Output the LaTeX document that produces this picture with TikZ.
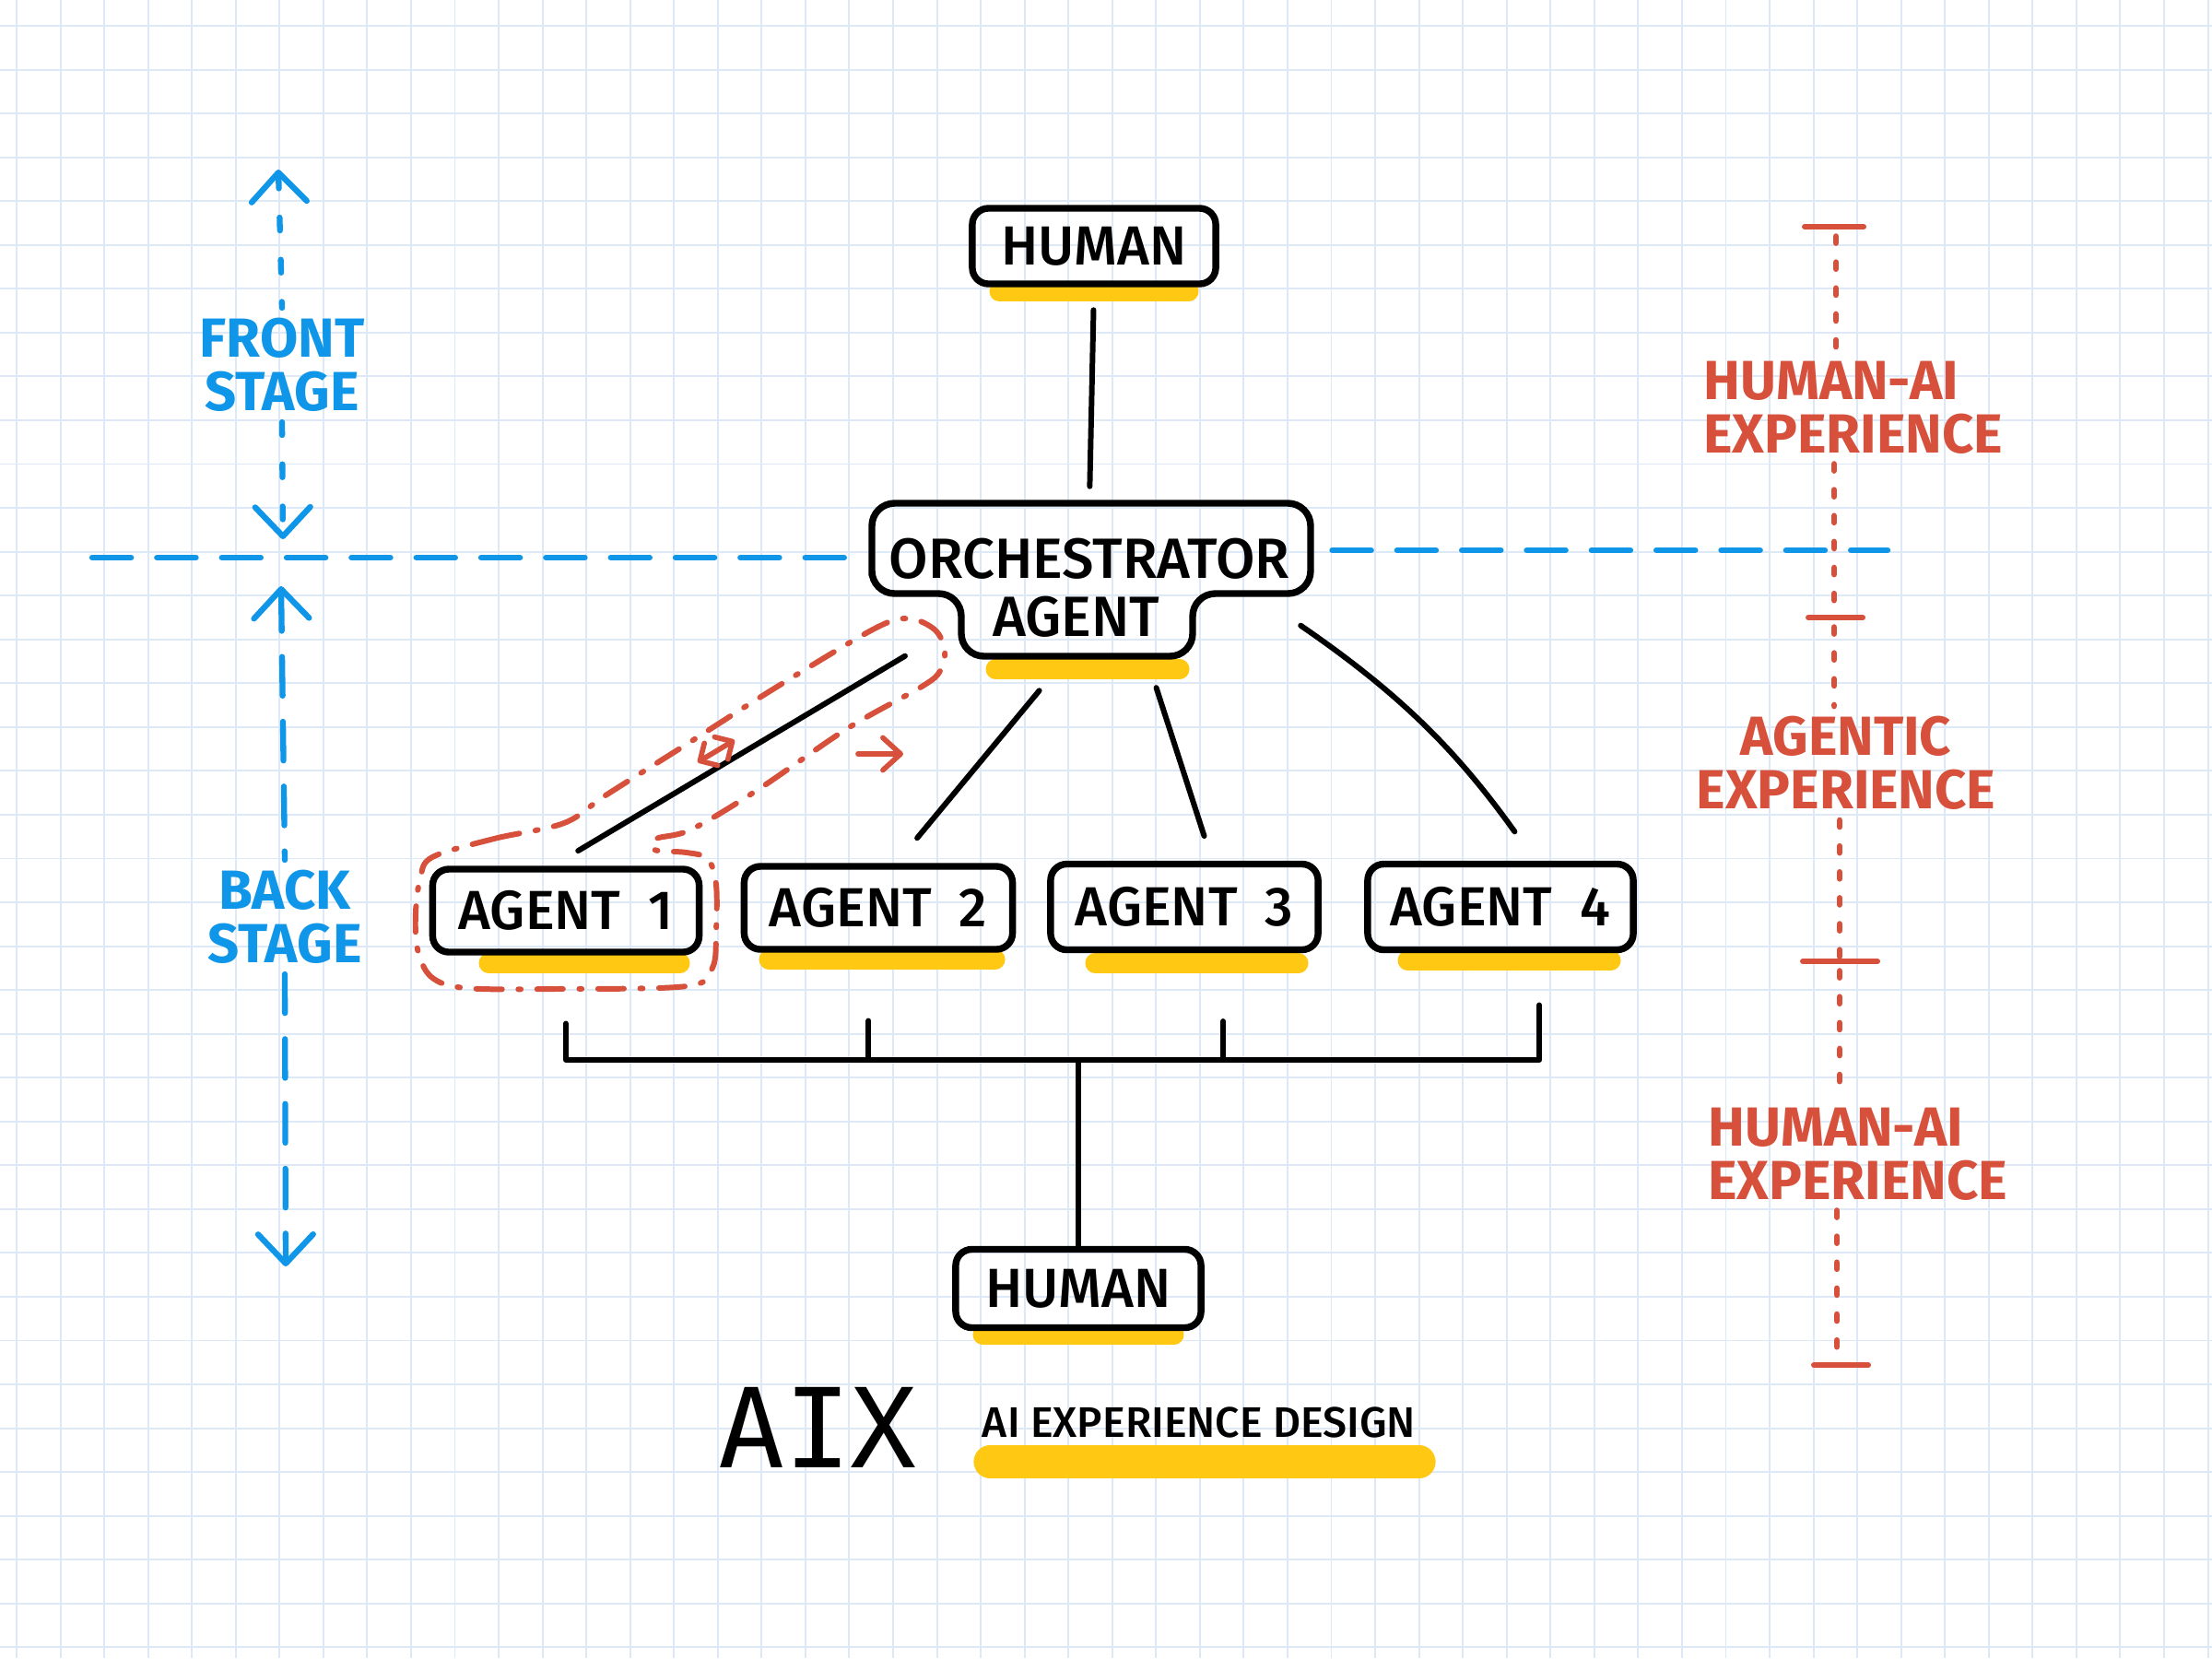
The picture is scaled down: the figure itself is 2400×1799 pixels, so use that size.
\documentclass[tikz,border=0pt]{standalone}
\usepackage{fontspec}
\setmainfont{Fira Sans}
\newfontfamily\handfont{Fira Sans Medium}
\newfontfamily\aixfont{DejaVu Sans Mono}
\usetikzlibrary{arrows.meta}
\pgfdeclarelayer{bg}
\pgfsetlayers{bg,main}
\definecolor{gridblue}{RGB}{221,233,246}
\definecolor{stageblue}{RGB}{16,150,232}
\definecolor{xpred}{RGB}{214,80,60}
\definecolor{hlyellow}{RGB}{255,200,18}
\newcommand\boxfont{\handfont\fontsize{17pt}{18pt}\selectfont}
\newcommand\orchfont{\handfont\fontsize{17.5pt}{18pt}\selectfont}
\newcommand\stagefont{\fontsize{17pt}{16.5pt}\selectfont\bfseries}
\tikzset{
    gridline/.style={draw=gridblue, line width=0.55pt},
    agentbox/.style={draw, line width=2.1pt, rounded corners=5pt, font=\boxfont, inner sep=0pt},
    orchline/.style={draw, line width=2.1pt, rounded corners=7pt},
    conn/.style={line width=1.7pt, line cap=round, line join=round},
    hilite/.style={draw=hlyellow, line width=6pt, line cap=round}
}
\tikzset{
    bluedash/.style={draw=stageblue, line width=1.8pt, line cap=round, dash pattern=on 12pt off 8pt},
    bluedot/.style={draw=stageblue, line width=1.8pt, line cap=round, dash pattern=on 4pt off 9pt},
    bluetip/.tip={Straight Barb[length=9pt, width=17pt, round]},
    reddot/.style={draw=xpred, line width=1.9pt, line cap=round, dash pattern=on 2pt off 6pt},
    redbar/.style={draw=xpred, line width=1.7pt, line cap=round},
    redloop/.style={draw=xpred, line width=1.7pt, line cap=round, dash pattern=on 8pt off 5pt on 0.8pt off 5pt},
    redarrow/.style={draw=xpred, line width=1.6pt, line cap=round},
    stagetext/.style={text=stageblue, font=\stagefont, align=center, inner sep=3pt},
    xptext/.style={text=xpred, font=\stagefont, inner sep=3pt}
}

\begin{document}
\begin{tikzpicture}[x=0.01cm, y=-0.01cm]
    \useasboundingbox (0, 0) rectangle (2400, 1799);

    \node (humtop) [agentbox, minimum width=2.64cm, minimum height=0.82cm] at (1187, 267) {HUMAN};
    \node (orch) [font=\orchfont, minimum width=4.76cm, minimum height=1.2cm, inner sep=0pt] at (1182, 606) {ORCHESTRATOR};
    \node (orchb) [font=\orchfont, minimum width=2.5cm, minimum height=0.86cm, inner sep=0pt] at (1168, 669) {AGENT};

    \node (ag1) [agentbox, minimum width=2.89cm, minimum height=0.90cm] at (614, 988) {AGENT\enspace 1};
    \node (ag2) [agentbox, minimum width=2.91cm, minimum height=0.90cm] at (953, 985) {AGENT\enspace 2};
    \node (ag3) [agentbox, minimum width=2.90cm, minimum height=0.93cm] at (1285, 984) {AGENT\enspace 3};
    \node (ag4) [agentbox, minimum width=2.88cm, minimum height=0.93cm] at (1628, 984) {AGENT\enspace 4};

    \node (humbot) [agentbox, minimum width=2.66cm, minimum height=0.85cm] at (1170, 1398) {HUMAN};

    \node (aix) [font=\aixfont\fontsize{34pt}{40pt}\selectfont] at (887, 1549) {AIX};
    \node (aixsub) [font=\handfont\fontsize{13.2pt}{14pt}\selectfont] at (1301, 1543) {AI EXPERIENCE DESIGN};

    \node (front) [stagetext] at (306, 396) {FRONT\\STAGE};
    \node (back) [stagetext] at (309, 995) {BACK\\STAGE};

    \node (hai1) [xptext, anchor=west, align=left] at (1837, 442) {HUMAN-AI\\EXPERIENCE};
    \node (agentic) [xptext, align=center] at (2003, 828) {AGENTIC\\EXPERIENCE};
    \node (hai2) [xptext, anchor=west, align=left] at (1842, 1252) {HUMAN-AI\\EXPERIENCE};

    \coordinate (ftop) at (302, 184);
    \coordinate (fbot) at (307, 585);
    \coordinate (btop) at (305, 636);
    \coordinate (bbot) at (310, 1374);
    \coordinate (hl) at (100, 605);
    \coordinate (hr) at (2048, 597);
    \coordinate (join) at (1170, 1150);
    \coordinate (bar1) at (1992, 246);
    \coordinate (bar2) at (1990, 670);
    \coordinate (bar3) at (1996, 1043);
    \coordinate (bar4) at (1993, 1481);
    \coordinate (da1) at (757, 827);
    \coordinate (da2) at (797, 803);
    \coordinate (ra1) at (931, 818);
    \coordinate (ra2) at (980, 818);

    \begin{pgfonlayer}{bg}
        \fill[white] (0, 0) rectangle (2400, 1799);
        \foreach \gx in {0,...,50}
            \draw[gridline] ({18+47.55*\gx}, 0) -- ({18+47.55*\gx}, 1799);
        \foreach \gy in {0,...,37}
            \draw[gridline] (0, {28+47.55*\gy}) -- (2400, {28+47.55*\gy});

        \draw[hilite] (1084, 316) -- (1290, 316);
        \draw[hilite] (1080, 726) -- (1280, 726);
        \draw[hilite] (530, 1045) -- (738, 1045);
        \draw[hilite] (834, 1041) -- (1080, 1041);
        \draw[hilite] (1188, 1045) -- (1409, 1045);
        \draw[hilite] (1527, 1042) -- (1748, 1042);
        \draw[hilite] (1066, 1448) -- (1274, 1448);
        \draw[hilite, line width=10pt] (1074, 1586) -- (1540, 1586);
    \end{pgfonlayer}

    \draw[orchline] (946, 600) -- (946, 546) -- (1422, 546) -- (1422, 644) -- (1294, 644)
        -- (1294, 712) -- (1043, 712) -- (1043, 644) -- (946, 644) -- cycle;

    \draw[conn, shorten <=7pt, shorten >=5pt] (humtop.south) -- (orch.north);
    \draw[conn, shorten <=25pt, shorten >=9pt] (orch.206) -- (ag1.106);
    \draw[conn, shorten <=13.5pt, shorten >=10pt] (orchb.257) -- (ag2.68);
    \draw[conn, shorten <=10pt, shorten >=8pt] (orchb.330) -- (ag3.59);
    \draw[conn, shorten <=6pt, shorten >=11pt] (orch.344) to[bend left=10] (ag4.53);

    \draw[conn] ([yshift=-21pt]ag1.south) |- (join) -| ([xshift=12pt, yshift=-16pt]ag4.south);
    \draw[conn] ([xshift=-3pt, yshift=-21pt]ag2.south) |- (join);
    \draw[conn] ([xshift=12pt, yshift=-21pt]ag3.south) |- (join);
    \draw[conn] (join) -- (humbot.north);

    \draw[bluedash, shorten >=6.5pt] (hl) -- (hl -| orch.west);
    \draw[bluedash, shorten <=7pt] (orch.east |- hr) -- (hr);
    \draw[bluedot, {bluetip}-] (ftop) -- (front.north);
    \draw[bluedot, -{bluetip}] (front.south) -- (fbot);
    \draw[bluedash, {bluetip}-] (btop) -- (back.north);
    \draw[bluedash, -{bluetip}] (back.south) -- (bbot);

    \draw[redbar] (1958, 246) -- (2022, 246);
    \draw[redbar] (1962, 670) -- (2021, 670);
    \draw[redbar] (1956, 1043) -- (2037, 1043);
    \draw[redbar] (1968, 1481) -- (2027, 1481);
    \draw[reddot, shorten <=3pt] (bar1) -- (bar1 |- hai1.north);
    \draw[reddot] (bar2 |- hai1.south) -- (bar2);
    \draw[reddot, shorten <=3pt] (bar2) -- (bar2 |- agentic.north);
    \draw[reddot] (bar3 |- agentic.south) -- (bar3);
    \draw[reddot, shorten <=3pt] (bar3) -- (bar3 |- hai2.north);
    \draw[reddot] (bar4 |- hai2.south) -- (bar4);

    \draw[redloop] plot[smooth cycle, tension=0.55] coordinates {(469, 930) (536, 910) (612, 893)
        (657, 863) (741, 810) (840, 747) (947, 683) (985, 671) (1014, 683) (1025, 705) (1020, 728)
        (1000, 745) (920, 790) (822, 857) (750, 900) (712, 910) (710, 922) (745, 925) (768, 932)
        (777, 960) (777, 1010) (773, 1050) (745, 1070) (600, 1073) (505, 1072) (468, 1060)
        (453, 1030) (451, 990) (456, 953)};
    \draw[redarrow, {Straight Barb[length=4pt, width=8pt, round]}-{Straight Barb[length=4pt, width=8pt, round]}] (da1) -- (da2);
    \draw[redarrow, -{Straight Barb[length=5.5pt, width=10pt, round]}] (ra1) -- (ra2);
\end{tikzpicture}
\end{document}
